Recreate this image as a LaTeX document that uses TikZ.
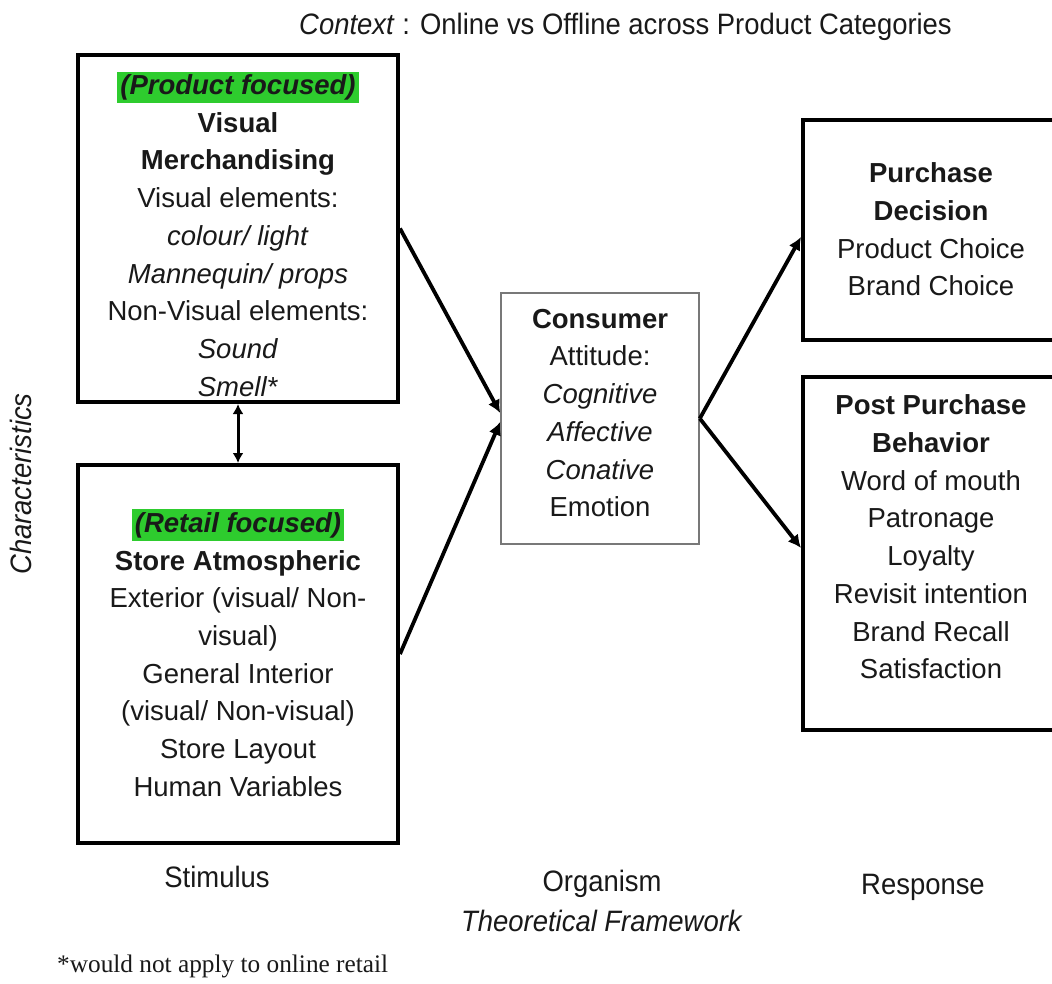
\documentclass[tikz,border=0pt]{standalone}
\usepackage{fontspec}
\setmainfont{Liberation Sans}
\newfontfamily\narrowsans[FakeStretch=0.93]{Liberation Sans}
\newfontfamily\notefont{Liberation Serif}
\usetikzlibrary{arrows.meta,calc}
\definecolor{hlgreen}{RGB}{46,204,46}
\definecolor{boxgray}{RGB}{120,120,120}
\definecolor{inkc}{RGB}{25,25,25}
\begin{document}
\begin{tikzpicture}[x=1pt,y=-1pt,
  bigbox/.style={draw=black, line width=4pt, inner sep=0pt},
  midbox/.style={draw=boxgray, line width=1.6pt, inner sep=0pt},
  boxtext/.style={align=center, text=inkc, font=\fontsize{27.5}{37.7}\selectfont, inner sep=0pt},
  stagelbl/.style={text=inkc, font=\narrowsans\fontsize{29.5}{36}\selectfont, inner sep=0pt},
  flow/.style={line width=3.8pt, -{Latex[length=13pt,width=13pt]}},
  link/.style={line width=3pt, {Latex[length=10pt,width=11pt]}-{Latex[length=10pt,width=11pt]}},
]
\useasboundingbox (0,0) rectangle (1052,984);
\fill[white] (0,0) rectangle (1052,984);

% boxes
\node[bigbox, minimum width=320pt, minimum height=347pt] (vm) at (238,228.5) {};
\node[bigbox, minimum width=320pt, minimum height=378pt] (sa) at (238,654) {};
\node[midbox, minimum width=198pt, minimum height=251pt] (cons) at (600,418.5) {};
\node[bigbox, minimum width=256pt, minimum height=220pt] (pd) at (931,230) {};
\node[bigbox, minimum width=256pt, minimum height=353pt] (ppb) at (931,553.5) {};

% box texts
\node[boxtext] (vmtext) at (238,234) {\colorbox{hlgreen}{\textbf{\textit{(Product focused)}}}\\
  \textbf{Visual}\\ \textbf{Merchandising}\\ Visual elements:\\ \textit{colour/ light}\\
  \textit{Mannequin/ props}\\ Non-Visual elements:\\ \textit{Sound}\\ \textit{Smell*}};
\node[boxtext] (satext) at (238,653) {\colorbox{hlgreen}{\textbf{\textit{(Retail focused)}}}\\
  \textbf{Store Atmospheric}\\ Exterior (visual/ Non-\\ visual)\\ General Interior\\
  (visual/ Non-visual)\\ Store Layout\\ Human Variables};
\node[boxtext] (constext) at (600,413) {\textbf{Consumer}\\ Attitude:\\ \textit{Cognitive}\\
  \textit{Affective}\\ \textit{Conative}\\ Emotion};
\node[boxtext] (pdtext) at (931,229.5) {\textbf{Purchase}\\ \textbf{Decision}\\ Product Choice\\ Brand Choice};
\node[boxtext] (ppbtext) at (931,537) {\textbf{Post Purchase}\\ \textbf{Behavior}\\ Word of mouth\\
  Patronage\\ Loyalty\\ Revisit intention\\ Brand Recall\\ Satisfaction};

% connectors
\draw[link] (vm.south) -- (sa.north);
\draw[flow] (vm.east) -- ([yshift=5.5pt]cons.west);
\draw[flow] (sa.east) -- ([yshift=-3.5pt]cons.west);
\draw[flow] (cons.east) -- ([yshift=-7pt]pd.west);
\draw[flow] (cons.east) -- ([yshift=5.5pt]ppb.west);

% labels
\node[stagelbl, anchor=west] (ctx) at (299,27) {\textit{Context} : Online vs Offline across Product Categories};
\node[stagelbl, rotate=90, anchor=base] (chars) at (31,484) {\textit{Characteristics}};
\node[stagelbl] (stim) at (217,877) {Stimulus};
\node[stagelbl] (org) at (602,884) {Organism};
\node[stagelbl] (theo) at (602,921) {\textit{Theoretical Framework}};
\node[stagelbl] (resp) at (923,887) {Response};
\node[text=inkc, font=\notefont\fontsize{25.3}{30}\selectfont, anchor=west, inner sep=0pt] (note) at (57,966) {*would not apply to online retail};
\end{tikzpicture}
\end{document}
